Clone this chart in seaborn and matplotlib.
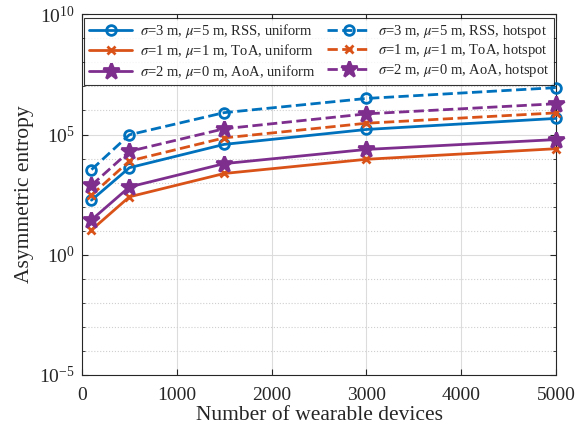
import numpy as np
import pandas as pd
import seaborn as sns
import matplotlib
matplotlib.use("Agg")
import matplotlib.pyplot as plt
from matplotlib.ticker import NullFormatter

# data (values are log10 of entropy)
devices = [100, 500, 1500, 3000, 5000]
rss_uniform = [2.27, 3.62, 4.59, 5.21, 5.67]
toa_uniform = [1.03, 2.41, 3.38, 3.97, 4.41]
aoa_uniform = [1.45, 2.82, 3.79, 4.38, 4.79]
rss_hotspot = [3.54, 4.99, 5.91, 6.50, 6.95]
toa_hotspot = [2.48, 3.90, 4.86, 5.47, 5.90]
aoa_hotspot = [2.89, 4.30, 5.24, 5.86, 6.28]

labels = [
    r"$\sigma$=3 m, $\mu$=5 m, RSS, uniform",
    r"$\sigma$=1 m, $\mu$=1 m, ToA, uniform",
    r"$\sigma$=2 m, $\mu$=0 m, AoA, uniform",
    r"$\sigma$=3 m, $\mu$=5 m, RSS, hotspot",
    r"$\sigma$=1 m, $\mu$=1 m, ToA, hotspot",
    r"$\sigma$=2 m, $\mu$=0 m, AoA, hotspot",
]
series = [rss_uniform, toa_uniform, aoa_uniform, rss_hotspot, toa_hotspot, aoa_hotspot]
colors = ["#0072BD", "#D95319", "#7E2F8E"] * 2
markers = ["o", "x", "*"] * 2
styles = ["-"] * 3 + ["--"] * 3

sns.set_style("ticks")
plt.rcParams["font.family"] = ["Liberation Serif", "DejaVu Serif"]
plt.rcParams["mathtext.fontset"] = "stix"
plt.rcParams["axes.unicode_minus"] = False

fig = plt.figure(figsize=(5.8, 4.33), dpi=100)
ax = fig.add_axes([0.1414, 0.134, 0.8172, 0.833])

for vals, lab, c, m, ls in zip(series, labels, colors, markers, styles):
    df = pd.DataFrame({"x": devices, "y": 10 ** np.array(vals)})
    msize = {"o": 7, "x": 6, "*": 12}[m]
    sns.lineplot(data=df, x="x", y="y", ax=ax, color=c, linestyle=ls, lw=2,
                 marker=m, markersize=msize, markeredgewidth=2,
                 markerfacecolor="none" if m == "o" else c,
                 markeredgecolor=c, label=lab, clip_on=False, zorder=3)

ax.set_yscale("log")
ax.set_xlim(0, 5000)
ax.set_ylim(1e-5, 1e10)
ax.set_xticks([0, 1000, 2000, 3000, 4000, 5000])
ax.set_yticks([1e-5, 1e0, 1e5, 1e10])
ax.set_yticks([10.0 ** k for k in range(-5, 11)], minor=True)
ax.yaxis.set_minor_formatter(NullFormatter())

ax.grid(True, which="major", color="#dcdcdc", lw=0.8, ls="-")
ax.grid(True, which="minor", axis="y", color="#cfcfcf", lw=0.8, ls=":")
ax.tick_params(direction="in", which="both", top=True, right=True,
               labelsize=14, length=4)
ax.tick_params(axis="x", pad=9)
ax.tick_params(axis="y", pad=5)
ax.tick_params(which="minor", length=2.5)
for s in ax.spines.values():
    s.set_color("#262626")
    s.set_linewidth(0.8)

ax.set_xlabel("Number of wearable devices", fontsize=15.5, labelpad=1)
ax.set_ylabel("Asymmetric entropy", fontsize=15.5, labelpad=4)

leg = ax.legend(loc="upper center", ncol=2, fontsize=10.5, frameon=True,
                fancybox=False, edgecolor="black", handlelength=3,
                columnspacing=0.8, handletextpad=0.5, labelspacing=0.15,
                borderpad=0.3, borderaxespad=0.25, bbox_to_anchor=(0.5, 1.0))
leg.get_frame().set_linewidth(0.8)

fig.savefig("out.png", dpi=100)
